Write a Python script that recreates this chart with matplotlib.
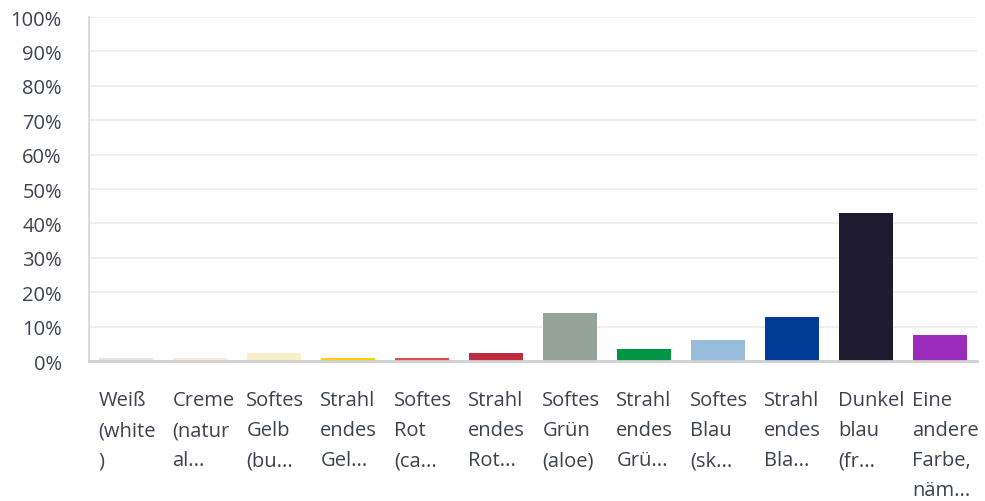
import matplotlib
matplotlib.use("Agg")
import matplotlib.pyplot as plt
import numpy as np

plt.rcParams["font.family"] = ["Open Sans", "DejaVu Sans"]

# Antwortkategorien, so wie sie im Diagramm umbrochen/gekürzt stehen
LABELS = [
    "Weiß\n(white\n)",
    "Creme\n(natur\nal...",
    "Softes\nGelb\n(bu...",
    "Strahl\nendes\nGel...",
    "Softes\nRot\n(ca...",
    "Strahl\nendes\nRot...",
    "Softes\nGrün\n(aloe)",
    "Strahl\nendes\nGrü...",
    "Softes\nBlau\n(sk...",
    "Strahl\nendes\nBla...",
    "Dunkel\nblau\n(fr...",
    "Eine\nandere\nFarbe,\nnäm...",
]
VALUES = [0.8, 0.8, 2.4, 0.8, 0.8, 2.4, 14.0, 3.5, 6.1, 12.8, 43.0, 7.5]
COLORS = [
    "#e6e6e6", "#fbe9d6", "#f9f0c9", "#ffd100", "#e8474f", "#be2b3e",
    "#94a597", "#009544", "#97bbdb", "#013c99", "#1e1a2f", "#9b2bbb",
]
Y_TICKS = list(range(0, 101, 10))

TEXT_COLOR = "#3b4350"
FS = 14.5

fig = plt.figure(figsize=(9.85, 5.02), dpi=100)
ax = fig.add_axes([89 / 985, 1 - 362 / 502, (977 - 89) / 985, (362 - 18) / 502])

x = np.arange(len(VALUES))
bar_width = 0.74
ax.bar(x, VALUES, width=bar_width, color=COLORS, zorder=3)

ax.set_xlim(-0.5, len(VALUES) - 0.5)
ax.set_ylim(0, 100)
ax.set_yticks(Y_TICKS)
ax.set_yticklabels([f"{t}%" for t in Y_TICKS], fontsize=FS, color=TEXT_COLOR)
ax.tick_params(axis="y", length=0, pad=19.5)
ax.set_xticks([])

ax.grid(axis="y", color="#ebebeb", linewidth=1.2, zorder=0)
for side in ["top", "right"]:
    ax.spines[side].set_visible(False)
ax.spines["left"].set_color("#d6d6d6")
ax.spines["left"].set_linewidth(1.2)
ax.spines["bottom"].set_color("#d0d0d0")
ax.spines["bottom"].set_linewidth(2)
ax.spines["bottom"].set_zorder(4)

trans = ax.get_xaxis_transform()
for i, label in enumerate(LABELS):
    ax.text(
        i - bar_width / 2 - 0.005, -0.085, label,
        transform=trans, ha="left", va="top",
        fontsize=FS, color=TEXT_COLOR, linespacing=1.66,
    )

fig.savefig("out.png", dpi=100)
